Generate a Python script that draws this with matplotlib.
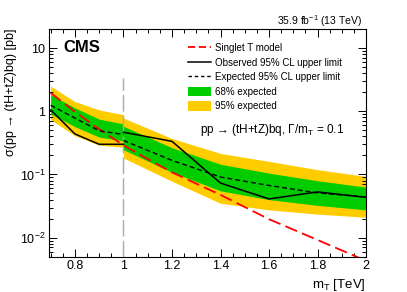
import numpy as np
import matplotlib
matplotlib.use("Agg")
import matplotlib.pyplot as plt
from matplotlib.patches import Patch
from matplotlib.lines import Line2D

plt.rcParams['font.family'] = ['Liberation Sans', 'DejaVu Sans']
plt.rcParams['mathtext.fontset'] = 'custom'
plt.rcParams['mathtext.rm'] = 'Liberation Sans'
plt.rcParams['mathtext.it'] = 'Liberation Sans:italic'
plt.rcParams['mathtext.bf'] = 'Liberation Sans:bold'

# limits below the 1 TeV boundary
mass_low = [0.7, 0.8, 0.9, 1.0]
obs_low = [1.05, 0.437, 0.300, 0.300]
exp_low = [1.24, 0.78, 0.49, 0.43]
g_lo_low = [0.906, 0.57, 0.39, 0.34]
g_hi_low = [1.83, 1.13, 0.75, 0.63]
y_lo_low = [0.736, 0.41, 0.29, 0.27]
y_hi_low = [2.49, 1.42, 1.05, 0.88]

# limits above the 1 TeV boundary
mass_high = [1.0, 1.2, 1.4, 1.6, 1.8, 2.0]
obs_high = [0.465, 0.334, 0.073, 0.041, 0.053, 0.0434]
exp_high = [0.345, 0.167, 0.091, 0.067, 0.051, 0.044]
g_lo_high = [0.246, 0.108, 0.055, 0.040, 0.0324, 0.0275]
g_hi_high = [0.578, 0.265, 0.145, 0.105, 0.0795, 0.063]
y_lo_high = [0.182, 0.078, 0.035, 0.0275, 0.0236, 0.021]
y_hi_high = [0.78, 0.37, 0.215, 0.161, 0.119, 0.093]

# singlet T model cross section
mass_th = [0.7, 0.8, 0.9, 1.0, 1.1, 1.2, 1.4, 1.6, 1.8, 2.0]
xsec_th = [1.95, 0.98, 0.52, 0.29, 0.175, 0.108, 0.0475, 0.0196, 0.0092, 0.0043]

boundary_mass = 1.0
boundary_top = 3.4

xticks = [0.8, 1.0, 1.2, 1.4, 1.6, 1.8, 2.0]
xticklabels = ["0.8", "1", "1.2", "1.4", "1.6", "1.8", "2"]
yticks = [0.01, 0.1, 1, 10]
yticklabels = ["10$^{-2}$", "10$^{-1}$", "1", "10"]

green = "#00cc00"
yellow = "#ffcc00"
red = "#ff0000"

fig = plt.figure(figsize=(4.07, 2.92), dpi=100)
ax = fig.add_axes([0.1204, 0.1209, 0.779, 0.7798])

for m, ylo, yhi, glo, ghi in [(mass_low, y_lo_low, y_hi_low, g_lo_low, g_hi_low),
                              (mass_high, y_lo_high, y_hi_high, g_lo_high, g_hi_high)]:
    ax.fill_between(m, ylo, yhi, color=yellow, lw=0, zorder=1)
    ax.fill_between(m, glo, ghi, color=green, lw=0, zorder=2)

ax.vlines(boundary_mass, 0.005, boundary_top, color="#aaaaaa", lw=1.0,
          linestyles=(0, (12, 3)), zorder=3)

ax.plot(mass_th, xsec_th, color=red, lw=1.3, dashes=(7, 3), zorder=4)
for m, e, o in [(mass_low, exp_low, obs_low), (mass_high, exp_high, obs_high)]:
    ax.plot(m, e, color="black", lw=1.0, dashes=(3.5, 2.2), zorder=5)
    ax.plot(m, o, color="black", lw=1.1, zorder=6)

ax.set_yscale("log")
ax.set_xlim(0.693, 2.0)
ax.set_ylim(0.005, 20)
ax.set_xticks(xticks)
ax.set_xticklabels(xticklabels)
ax.set_xticks(np.arange(0.7, 2.001, 0.05), minor=True)
ax.set_yticks(yticks)
ax.set_yticklabels(yticklabels)
ax.tick_params(which="both", direction="in", top=True, right=True, labelsize=9, pad=2.5)
ax.tick_params(which="major", length=5.5, width=0.7)
ax.tick_params(which="minor", length=3, width=0.7)
ax.yaxis.set_minor_formatter(matplotlib.ticker.NullFormatter())
for s in ax.spines.values():
    s.set_linewidth(0.8)

ax.set_xlabel("m$_{\\rm T}$ [TeV]", fontsize=9.5, loc="right")
ax.xaxis.set_label_coords(1.0, -0.09)
ax.set_ylabel("σ(pp → (tH+tZ)bq) [pb]", fontsize=9, loc="top")
ax.yaxis.set_label_coords(-0.1, 1.0)

ax.text(0.045, 0.92, "CMS", transform=ax.transAxes, fontsize=12, fontweight="bold",
        va="center", ha="left")
fig.text(362 / 407, 1 - 21 / 292, "35.9 fb$^{-1}$ (13 TeV)", fontsize=7.5,
         ha="right", va="center")
ax.text(0.475, 0.556, "pp → (tH+tZ)bq, Γ/m$_{\\rm T}$ = 0.1", transform=ax.transAxes,
        fontsize=8.5, ha="left", va="center")

handles = [Line2D([], [], color=red, lw=1.3, dashes=(4, 2)),
           Line2D([], [], color="black", lw=1.1),
           Line2D([], [], color="black", lw=1.0, dashes=(2.5, 2)),
           Patch(facecolor=green, lw=0),
           Patch(facecolor=yellow, lw=0)]
labels = ["Singlet T model", "Observed 95% CL upper limit", "Expected 95% CL upper limit",
          "68% expected", "95% expected"]
ax.legend(handles, labels, loc="upper left", bbox_to_anchor=(0.4385, 0.937), frameon=False,
          fontsize=7, handlelength=2.37, handleheight=1.1, handletextpad=0.45,
          labelspacing=0.46, borderpad=0, borderaxespad=0)

fig.savefig("out.png", dpi=100)
